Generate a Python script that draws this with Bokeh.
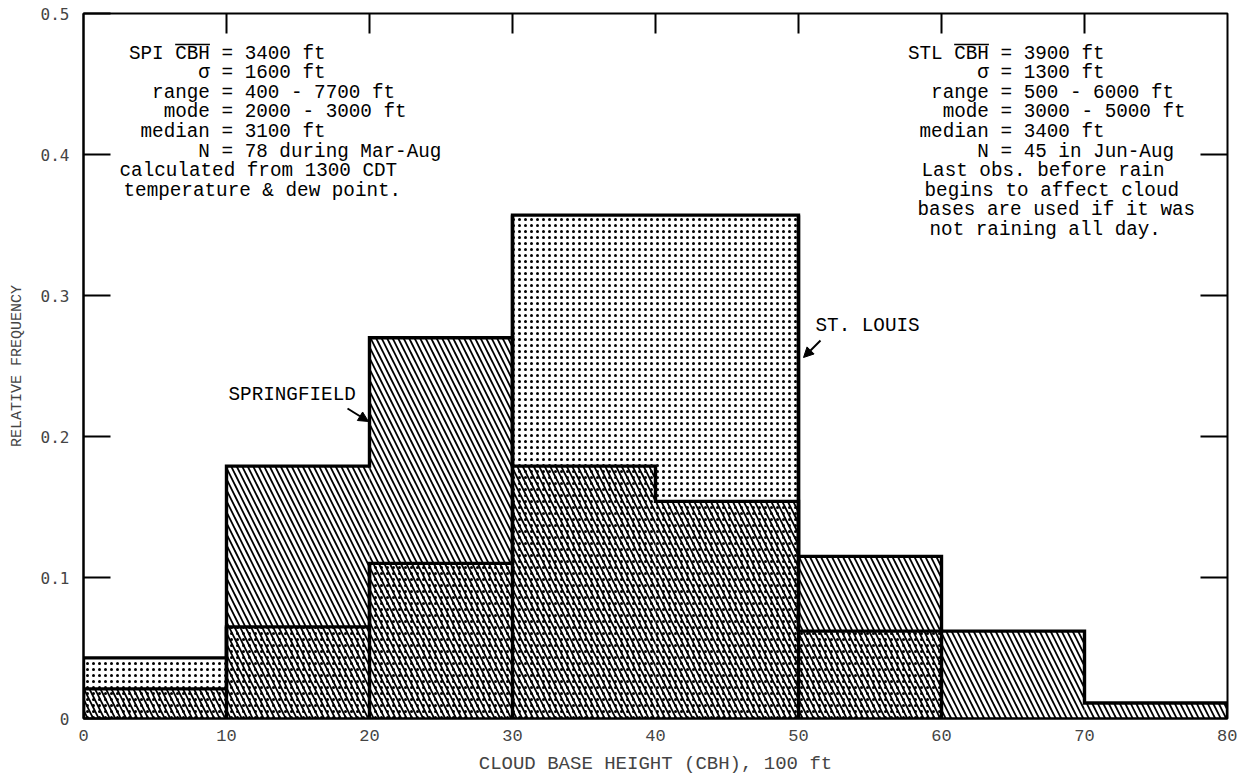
from bokeh.plotting import figure
from bokeh.models import (ColumnDataSource, LinearAxis, FixedTicker, Range1d,
                          Arrow, NormalHead)
from bokeh.core.properties import value
from bokeh.embed import file_html
from bokeh.resources import INLINE

# Histogram bins: cloud base height in hundreds of feet
bin_edges = [0, 10, 20, 30, 40, 50, 60, 70, 80]
# Relative frequency per bin
spi_freq = [0.021, 0.179, 0.270, 0.179, 0.154, 0.115, 0.062, 0.011]   # Springfield
stl_freq = [0.043, 0.065, 0.110, 0.357, 0.357, 0.062]                 # St. Louis

x_ticks = [0, 10, 20, 30, 40, 50, 60, 70, 80]
y_ticks = [0, 0.1, 0.2, 0.3, 0.4, 0.5]
top_ticks = [10, 20, 30, 40, 50, 60, 70]
side_ticks = [0.1, 0.2, 0.3, 0.4]

spi_stats = [
    ("SPI CBH", "= 3400 ft"),
    ("\u03c3", "= 1600 ft"),
    ("range", "= 400 - 7700 ft"),
    ("mode", "= 2000 - 3000 ft"),
    ("median", "= 3100 ft"),
    ("N", "= 78 during Mar-Aug"),
]
spi_notes = ["calculated from 1300 CDT", "temperature & dew point."]

stl_stats = [
    ("STL CBH", "= 3900 ft"),
    ("\u03c3", "= 1300 ft"),
    ("range", "= 500 - 6000 ft"),
    ("mode", "= 3000 - 5000 ft"),
    ("median", "= 3400 ft"),
    ("N", "= 45 in Jun-Aug"),
]
stl_notes = ["Last obs. before rain", "begins to affect cloud",
             "bases are used if it was", "not raining all day."]

W, H = 1237, 784
FL, FR, FT, FB = 83, 1227, 13, 718       # frame edges in pixels
X0, X1, Y0, Y1 = 0, 80, 0, 0.5

def px_x(px):
    return X0 + (px - FL) / (FR - FL) * (X1 - X0)

def px_y(py):
    return Y0 + (FB - py) / (FB - FT) * (Y1 - Y0)

DX = (X1 - X0) / (FR - FL)     # data units per pixel, x
DY = (Y1 - Y0) / (FB - FT)     # data units per pixel, y

MONO = value("Liberation Mono")
TXT_SIZE = "19.3px"
CW = 11.58        # character width of the annotation font, px

p = figure(width=W, height=H, output_backend="svg", toolbar_location=None,
           x_range=Range1d(X0, X1), y_range=Range1d(Y0, Y1),
           min_border_left=FL, min_border_right=W - FR,
           min_border_top=FT, min_border_bottom=H - FB,
           x_axis_type=None, y_axis_type=None)
p.background_fill_color = "white"
p.border_fill_color = "white"
p.outline_line_color = "black"
p.outline_line_width = 2
p.xgrid.grid_line_color = None
p.ygrid.grid_line_color = None

# ---- histogram fills -------------------------------------------------------
stl_src = ColumnDataSource(dict(left=bin_edges[:len(stl_freq)],
                                right=bin_edges[1:len(stl_freq) + 1],
                                top=stl_freq))
spi_src = ColumnDataSource(dict(left=bin_edges[:-1], right=bin_edges[1:],
                                top=spi_freq))
p.quad(left="left", right="right", top="top", bottom=0, source=stl_src,
       fill_alpha=0, line_color=None, hatch_pattern=".", hatch_color="black",
       hatch_scale=6, hatch_weight=0.75)
p.quad(left="left", right="right", top="top", bottom=0, source=spi_src,
       fill_alpha=0, line_color=None, hatch_pattern="\\", hatch_color="black",
       hatch_scale=11, hatch_weight=1.8)

# ---- step outlines ---------------------------------------------------------
def step_xy(edges, vals):
    xs, ys = [edges[0]], [0]
    for i, v in enumerate(vals):
        xs += [edges[i], edges[i + 1]]
        ys += [v, v]
    xs.append(edges[len(vals)])
    ys.append(0)
    return xs, ys

for vals in (stl_freq, spi_freq):
    xs, ys = step_xy(bin_edges, vals)
    p.line(xs, ys, line_color="black", line_width=3.4, line_join="miter")

# St. Louis bars keep their side walls down to the base where heights change
wx, wy0, wy1 = [], [], []
for i in range(1, len(stl_freq)):
    a, b = stl_freq[i - 1], stl_freq[i]
    if a != b:
        wx.append(bin_edges[i])
        wy0.append(0)
        wy1.append(max(a, b))
p.segment(x0=wx, y0=wy0, x1=wx, y1=wy1, line_color="black", line_width=3.4)

# ---- axes ------------------------------------------------------------------
def style(ax):
    ax.axis_line_color = "black"
    ax.axis_line_width = 2
    ax.major_tick_line_color = "black"
    ax.major_tick_line_width = 2
    ax.minor_tick_line_color = None
    ax.major_tick_out = 0

left = LinearAxis(ticker=FixedTicker(ticks=y_ticks))
style(left)
left.major_tick_in = 27
left.major_label_overrides = {0: "0"}
left.major_label_text_font = "DejaVu Sans Mono"
left.major_label_text_font_size = "16px"
left.major_label_standoff = 14
left.axis_label = "RELATIVE FREQUENCY"
left.axis_label_text_font = "Liberation Mono"
left.axis_label_text_font_size = "15px"
left.axis_label_text_font_style = "normal"
left.axis_label_standoff = 12
p.add_layout(left, "left")

bottom = LinearAxis(ticker=FixedTicker(ticks=x_ticks))
style(bottom)
bottom.major_tick_in = 0
bottom.major_label_text_font = "Liberation Mono"
bottom.major_label_text_font_size = "17px"
bottom.major_label_standoff = 11
bottom.axis_label = "CLOUD BASE HEIGHT (CBH), 100 ft"
bottom.axis_label_text_font = "Liberation Mono"
bottom.axis_label_text_font_size = "19px"
bottom.axis_label_text_font_style = "normal"
bottom.axis_label_standoff = 9
p.add_layout(bottom, "below")

# inward ticks along the top and right frame edges
TOP_LEN, SIDE_LEN = 20, 27
p.segment(x0=top_ticks, y0=[Y1] * len(top_ticks),
          x1=top_ticks, y1=[Y1 - TOP_LEN * DY] * len(top_ticks),
          line_color="black", line_width=2)
p.segment(x0=[X1] * len(side_ticks), y0=side_ticks,
          x1=[X1 - SIDE_LEN * DX] * len(side_ticks), y1=side_ticks,
          line_color="black", line_width=2)

# ---- statistics blocks -----------------------------------------------------
def stats_block(eq_px, top_px, step_px, stats, notes, note_px):
    lx, ly, lt, rx, ry, rt = [], [], [], [], [], []
    for k, (name, rest) in enumerate(stats):
        y = px_y(top_px + k * step_px)
        lx.append(px_x(eq_px - CW)); ly.append(y); lt.append(name)
        rx.append(px_x(eq_px)); ry.append(y); rt.append(rest)
    for k, line in enumerate(notes):
        y = px_y(top_px + (len(stats) + k) * step_px)
        rx.append(px_x(note_px[k])); ry.append(y); rt.append(line)
    p.text(x=lx, y=ly, text=lt, text_font=MONO, text_font_size=TXT_SIZE,
           text_align="right", text_baseline="middle", text_color="black")
    p.text(x=rx, y=ry, text=rt, text_font=MONO, text_font_size=TXT_SIZE,
           text_align="left", text_baseline="middle", text_color="black")
    # overbar on "CBH"
    bar_y = px_y(top_px - 9)
    p.segment(x0=[px_x(eq_px - 4 * CW)], y0=[bar_y],
              x1=[px_x(eq_px - CW)], y1=[bar_y],
              line_color="black", line_width=1.6)

LINE_STEP = 19.6
stats_block(221, 53, LINE_STEP, spi_stats, spi_notes, [119, 123])
stats_block(1000, 53, LINE_STEP, stl_stats, stl_notes, [921, 924, 917, 929])

# ---- station labels with arrows -------------------------------------------
p.text(x=[px_x(228), px_x(815)], y=[px_y(394), px_y(325)],
       text=["SPRINGFIELD", "ST. LOUIS"], text_font=MONO,
       text_font_size=TXT_SIZE, text_align="left", text_baseline="middle",
       text_color="black")
for (x0, y0, x1, y1) in ((347, 408, 368, 421), (820, 340, 803, 357)):
    p.add_layout(Arrow(end=NormalHead(size=10, fill_color="black",
                                      line_color="black"),
                       x_start=px_x(x0), y_start=px_y(y0),
                       x_end=px_x(x1), y_end=px_y(y1),
                       line_color="black", line_width=2))

open("out.html", "w").write(file_html(p, INLINE))
